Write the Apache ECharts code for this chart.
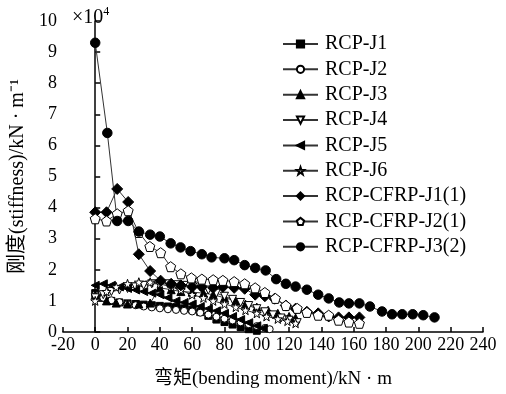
<!DOCTYPE html>
<html>
<head>
<meta charset="utf-8">
<script src="https://cdn.jsdelivr.net/npm/echarts@6/dist/echarts.min.js"></script>
<style>
  html, body { margin: 0; padding: 0; background: #fff; }
  #chart { width: 506px; height: 394px; }
</style>
</head>
<body>
<div id="chart"></div>
<script>
// 刚度 (×10^4 kN/m) vs 弯矩 (kN·m), [moment, stiffness]
var rcpJ1 = [[0,1.25],[5,1.1],[10,1.0],[15,0.95],[20,0.92],[25,0.9],[30,0.88],[35,0.86],[40,0.84],[45,0.82],[50,0.8],[55,0.76],[60,0.72],[65,0.64],[70,0.52],[75,0.4],[80,0.32],[85,0.24],[90,0.16],[95,0.09],[100,0.04]];
var rcpJ2 = [[0,1.2],[5,1.1],[10,1.02],[15,0.96],[20,0.9],[25,0.86],[30,0.82],[35,0.79],[40,0.76],[45,0.73],[50,0.71],[55,0.68],[60,0.66],[65,0.62],[70,0.56],[75,0.49],[80,0.43],[85,0.37],[90,0.31],[95,0.25],[100,0.19],[105,0.13],[108,0.09]];
var rcpJ3 = [[0,1.2],[7,1.0],[13,0.93],[20,0.9],[27,0.9],[34,0.93],[40,1.42],[47,1.36],[53,1.3],[60,1.28],[67,1.25],[73,1.2],[80,1.1],[87,1.0],[93,0.9],[100,0.8],[107,0.7],[113,0.6],[120,0.5],[124,0.45]];
var rcpJ4 = [[0,1.1],[5,1.2],[10,1.3],[15,1.35],[20,1.4],[25,1.45],[30,1.5],[35,1.55],[40,1.55],[45,1.55],[50,1.52],[55,1.5],[60,1.5],[65,1.45],[70,1.35],[75,1.25],[80,1.15],[85,1.05],[90,0.95],[95,0.85],[100,0.75],[105,0.65],[110,0.55],[115,0.45],[120,0.38],[125,0.3]];
var rcpJ5 = [[0,1.5],[5,1.55],[10,1.5],[15,1.45],[20,1.4],[25,1.35],[30,1.3],[35,1.25],[40,1.2],[45,1.1],[50,1.0],[55,0.95],[60,0.9],[65,0.82],[70,0.75],[75,0.68],[80,0.6],[85,0.5],[90,0.4],[95,0.3],[100,0.2],[104,0.12]];
var rcpJ6 = [[0,1.0],[7,1.3],[13,1.45],[20,1.55],[27,1.6],[34,1.6],[40,1.55],[47,1.45],[53,1.35],[60,1.2],[67,1.1],[73,1.0],[80,0.9],[87,0.8],[93,0.7],[100,0.6],[106,0.5],[113,0.42],[119,0.35],[124,0.28]];
var cfrpJ1 = [[0,3.85],[7,3.85],[13.6,4.6],[20.4,4.18],[27,2.5],[34,1.96],[40.5,1.65],[47,1.55],[53,1.5],[60,1.45],[66,1.45],[73,1.42],[79,1.45],[86,1.42],[92.5,1.39],[99,1.2],[105,1.15],[111,1.07],[118,0.85],[124,0.75],[131,0.65],[138,0.6],[144.5,0.5],[150.6,0.47],[157,0.47],[163.5,0.47]];
var cfrpJ2 = [[0,3.64],[7,3.57],[13.6,3.8],[20.4,3.9],[27,3.2],[33.8,2.75],[40.5,2.55],[46.7,2.1],[53,1.87],[59.5,1.74],[66,1.7],[73,1.68],[79,1.66],[86,1.62],[92.5,1.55],[99,1.42],[105,1.27],[111.5,1.08],[118,0.85],[125,0.76],[131,0.63],[138,0.54],[144.5,0.54],[150.6,0.38],[157,0.32],[163.5,0.28]];
var cfrpJ3 = [[0,9.3],[7.5,6.4],[13.6,3.57],[20.4,3.57],[27,3.23],[34,3.13],[40,3.07],[46.7,2.85],[52.8,2.72],[59,2.6],[66,2.5],[72,2.4],[80,2.37],[86,2.31],[92.5,2.15],[99,2.06],[105.5,1.98],[112,1.7],[118,1.55],[124,1.46],[131,1.36],[138,1.2],[144.5,1.08],[151,0.95],[157,0.92],[163.5,0.92],[170,0.82],[177.5,0.66],[183.7,0.57],[190,0.57],[196.5,0.57],[203,0.54],[210,0.47]];

var seriesNames = ['RCP-J1','RCP-J2','RCP-J3','RCP-J4','RCP-J5','RCP-J6','RCP-CFRP-J1(1)','RCP-CFRP-J2(1)','RCP-CFRP-J3(2)'];
var seriesData = [rcpJ1, rcpJ2, rcpJ3, rcpJ4, rcpJ5, rcpJ6, cfrpJ1, cfrpJ2, cfrpJ3];

var serif = '"Liberation Serif", "Times New Roman", "Noto Sans CJK SC", serif';
var starPath = 'path://M0,-10 L2.35,-3.24 L9.51,-3.09 L3.8,1.24 L5.88,8.09 L0,4 L-5.88,8.09 L-3.8,1.24 L-9.51,-3.09 L-2.35,-3.24 Z';
var pentPath = 'path://M0,-10 L9.51,-3.09 L5.88,8.09 L-5.88,8.09 L-9.51,-3.09 Z';

// 每条线的符号样式
var marks = [
  { symbol: 'rect', size: 7, fill: '#000' },
  { symbol: 'circle', size: 7, fill: '#fff' },
  { symbol: 'triangle', size: 8, fill: '#000' },
  { symbol: 'triangle', size: 8, fill: '#fff', rotate: 180 },
  { symbol: 'triangle', size: 8, fill: '#000', rotate: 90 },
  { symbol: starPath, size: 9, fill: '#fff' },
  { symbol: 'diamond', size: 11, fill: '#000' },
  { symbol: pentPath, size: 10, fill: '#fff' },
  { symbol: 'circle', size: 9.5, fill: '#000' }
];

var series = seriesNames.map(function (name, i) {
  var m = marks[i];
  return {
    name: name,
    type: 'line',
    data: seriesData[i],
    symbol: m.symbol,
    symbolSize: m.size,
    symbolRotate: m.rotate || 0,
    showAllSymbol: true,
    animation: false,
    lineStyle: { color: '#333', width: 1 },
    itemStyle: { color: m.fill, borderColor: '#000', borderWidth: 1 },
    emphasis: { disabled: true }
  };
});

var myChart = echarts.init(document.getElementById('chart'));
var option = {
  backgroundColor: '#fff',
  animation: false,
  textStyle: { fontFamily: serif, color: '#000' },
  grid: { left: 58, right: 23, top: 21, bottom: 57 },
  legend: {
    orient: 'vertical',
    left: 277,
    top: 29,
    itemWidth: 35,
    itemHeight: 9,
    itemGap: 5.35,
    data: seriesNames,
    textStyle: { fontFamily: serif, fontSize: 20, color: '#000', padding: [0, 0, 0, 2] }
  },
  graphic: [{
    type: 'text',
    left: 72,
    top: 6,
    style: {
      text: '×10{s|4}',
      font: '20px ' + serif,
      fill: '#000',
      rich: { s: { fontSize: 12, fontFamily: serif, padding: [0, 0, 12, 0] } }
    }
  }],
  xAxis: {
    type: 'value',
    min: -20,
    max: 240,
    interval: 20,
    name: '弯矩(bending moment)/kN · m',
    nameLocation: 'middle',
    nameGap: 38,
    nameTextStyle: { fontFamily: serif, fontSize: 19, color: '#000' },
    axisLine: { onZero: false, lineStyle: { color: '#000', width: 1.5 } },
    axisTick: { inside: true, length: 5, lineStyle: { color: '#000', width: 1.5 } },
    axisLabel: { fontFamily: serif, fontSize: 18, color: '#000', margin: 4 },
    splitLine: { show: false }
  },
  yAxis: {
    type: 'value',
    min: 0,
    max: 10,
    interval: 1,
    name: '刚度(stiffness)/kN · m⁻¹',
    nameLocation: 'middle',
    nameGap: 33,
    nameTextStyle: { fontFamily: serif, fontSize: 20, color: '#000' },
    axisLine: { show: true, lineStyle: { color: '#000', width: 1.5 } },
    axisTick: { show: true, inside: true, length: 5, lineStyle: { color: '#000', width: 1.5 } },
    axisLabel: { fontFamily: serif, fontSize: 18, color: '#000', margin: 6 },
    splitLine: { show: false }
  },
  series: series
};
myChart.setOption(option);
</script>
</body>
</html>
